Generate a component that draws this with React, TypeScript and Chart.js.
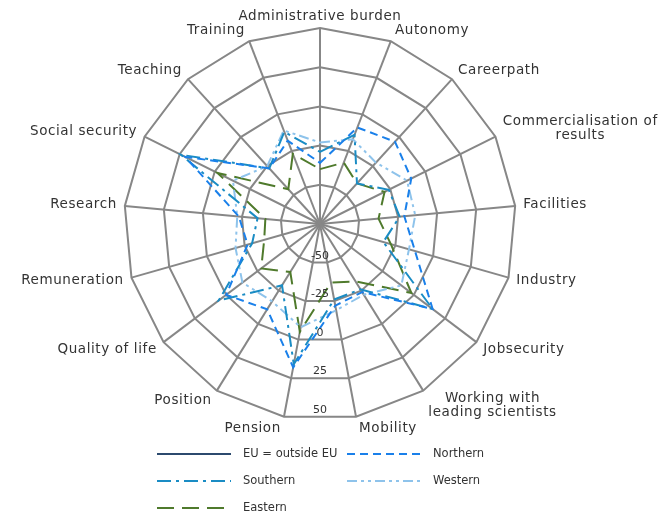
import { useEffect, useRef } from "react";
import { Chart, registerables } from "chart.js";

Chart.register(...registerables);

const categories: (string | string[])[] = [
  "Administrative burden",
  "Autonomy",
  "Careerpath",
  ["Commercialisation of", "results"],
  "Facilities",
  "Industry",
  "Jobsecurity",
  ["Working with", "leading scientists"],
  "Mobility",
  "Pension",
  "Position",
  "Quality of life",
  "Remuneration",
  "Research",
  "Social security",
  "Teaching",
  "Training",
];

const scaleMin = -75;
const scaleMax = 50;
const scaleStep = 25;

const seriesNames = ["EU = outside EU", "Northern", "Southern", "Western", "Eastern"];

const euOutsideEU: (number | null)[] = [
  null, null, null, null, null, null, null, null, null, null, null, null, null, null, null, null, null,
];
const northern = [-36, -9, -4, -10, -21, -12, 15, -24, -22, 18, -11, 0, -27, -23, 21, -27, -18];
const southern = [-29, -14, -40, -26, -24, -33, 15, -26, -26, 16, -29, 6, -30, -35, 24, -27, -12];
const western = [-23, -17, -22, -13, -14, -16, -10, -22, -19, -8, -17, -13, -19, -22, -13, -25, -11];
const eastern = [-40, -33, -40, -29, -37.5, -28, -2, -32, -37, -5, -39, -28, -38, -40, -2, -45, -27];

const FONT = "'DejaVu Sans', 'Liberation Sans', sans-serif";
const TEXT_COLOR = "#333333";
const GRID_COLOR = "#878787";

const customText = {
  id: "customText",
  afterDraw(chart: any) {
    const ctx: CanvasRenderingContext2D = chart.ctx;
    const scale = chart.scales.r;
    const labels = chart.data.labels as (string | string[])[];
    ctx.save();

    // point labels
    ctx.font = `13.5px ${FONT}`;
    (ctx as any).letterSpacing = "0.6px";
    ctx.fillStyle = TEXT_COLOR;
    ctx.textAlign = "center";
    ctx.textBaseline = "middle";
    labels.forEach((lab, i) => {
      const lines = Array.isArray(lab) ? lab : [lab];
      const ang = scale.getIndexAngle(i);
      const s = Math.sin(ang);
      const c = Math.cos(ang);
      const p = scale.getPointPosition(i, scale.drawingArea + 6);
      const lh = 14;
      const h = lines.length * lh;
      const w = Math.max(...lines.map((l) => ctx.measureText(l).width));
      let left: number;
      if (s > 0.05) left = p.x + 2;
      else if (s < -0.05) left = p.x - w - 2;
      else left = p.x - w / 2;
      const top = p.y - h / 2 - (c * h) / 2 * 0.85;
      lines.forEach((l, k) => {
        ctx.fillText(l, left + w / 2, top + lh * k + lh / 2);
      });
    });
    (ctx as any).letterSpacing = "0px";

    // tick labels along the downward direction
    ctx.font = `11px ${FONT}`;
    ctx.textBaseline = "bottom";
    ctx.textAlign = "center";
    const cosHalf = Math.cos(Math.PI / labels.length);
    scale.ticks.forEach((t: any) => {
      if (t.value <= scale.min) return;
      const d = scale.getDistanceFromCenterForValue(t.value) * cosHalf;
      ctx.fillText(String(t.value), scale.xCenter, scale.yCenter + d - 1);
    });

    // legend (two columns)
    const colX = [149, 339];
    const rowY = [446, 473, 500];
    ctx.font = `11.5px ${FONT}`;
    ctx.textAlign = "left";
    ctx.textBaseline = "middle";
    chart.data.datasets.forEach((ds: any, i: number) => {
      const x0 = colX[i % 2];
      const y = rowY[Math.floor(i / 2)];
      ctx.strokeStyle = ds.borderColor;
      ctx.lineWidth = ds.borderWidth;
      ctx.setLineDash(ds.borderDash || []);
      ctx.beginPath();
      ctx.moveTo(x0, y);
      ctx.lineTo(x0 + 74, y);
      ctx.stroke();
      ctx.setLineDash([]);
      ctx.fillStyle = TEXT_COLOR;
      ctx.fillText(ds.label, x0 + 86, y);
    });
    ctx.restore();
  },
};

export default function App() {
  const ref = useRef<HTMLCanvasElement | null>(null);
  useEffect(() => {
    if (!ref.current) return;
    const mk = (label: string, data: (number | null)[], color: string, dash: number[]) => ({
      label,
      data,
      borderColor: color,
      backgroundColor: color,
      borderWidth: 2,
      borderDash: dash,
      pointRadius: 0,
      pointHoverRadius: 0,
      fill: false,
      tension: 0,
    });
    const chart = new Chart(ref.current, {
      type: "radar",
      data: {
        labels: categories,
        datasets: [
          mk(seriesNames[0], euOutsideEU, "#2c4a6e", []),
          mk(seriesNames[1], northern, "#1a80ea", [8, 5]),
          mk(seriesNames[2], southern, "#1a8cc4", [14, 5, 3, 5]),
          mk(seriesNames[3], western, "#8ec3eb", [10, 4, 3, 4, 3, 4]),
          mk(seriesNames[4], eastern, "#4f7a2c", [17, 8]),
        ],
      },
      options: {
        animation: false,
        responsive: true,
        maintainAspectRatio: false,
        layout: { padding: { left: 116, right: 146, top: 20, bottom: 96 } },
        plugins: { legend: { display: false }, tooltip: { enabled: false } },
        scales: {
          r: {
            min: scaleMin,
            max: scaleMax,
            ticks: { stepSize: scaleStep, display: false },
            pointLabels: { display: false },
            grid: { color: GRID_COLOR, lineWidth: 2, circular: false },
            angleLines: { color: GRID_COLOR, lineWidth: 2 },
          },
        },
      },
      plugins: [customText],
    });
    return () => chart.destroy();
  }, []);
  return (
    <div style={{ position: "relative", width: "654px", height: "508px" }}>
      <canvas ref={ref} />
    </div>
  );
}
